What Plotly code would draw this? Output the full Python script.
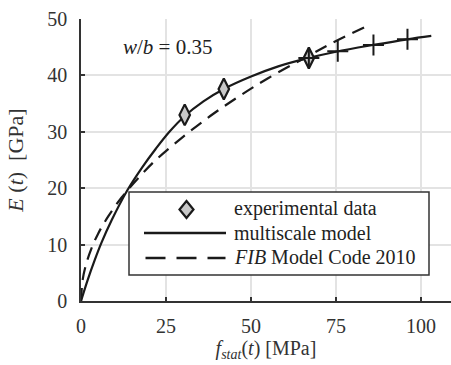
import plotly.graph_objects as go

# experimental data
exp_f = [30.5, 42.0, 67.0]
exp_E = [33.0, 37.6, 43.1]

# multiscale model curve
ms_f = [0, 2, 4, 6, 9, 13.5, 18, 22, 26, 30.5, 36, 42, 50, 58, 67, 75, 86, 96, 103]
ms_E = [0, 3.8, 7.2, 10.3, 14.3, 19.5, 23.7, 27.0, 30.0, 32.8, 35.4, 37.6, 39.8, 41.6, 43.1, 44.2, 45.4, 46.4, 47.0]

# multiscale model points (plus markers)
msp_f = [67, 75.5, 86, 96]
msp_E = [43.1, 44.3, 45.4, 46.4]

# FIB Model Code 2010 curve
fib_f = [0, 0.5, 1.5, 3, 5, 8, 12, 17, 22, 30, 38, 46, 55, 67, 75, 85]
fib_E = [0, 3.8, 6.5, 9.2, 11.9, 15.0, 18.4, 21.9, 25.0, 29.1, 32.8, 36.1, 39.5, 43.5, 46.1, 49.0]

legend_labels = ["experimental data", "multiscale model", "<i>FIB</i> Model Code 2010"]

font = "Liberation Serif, Times New Roman, serif"
INK = "#1a1a1a"
W, H = 451, 365
ML, MR, MT, MB = 81, 0, 19, 64
PW, PH = W - ML - MR, H - MT - MB


def px(x):
    return (x - ML) / PW


def py(y):
    return (H - MB - y) / PH


fig = go.Figure()
fig.add_trace(go.Scatter(x=ms_f, y=ms_E, mode="lines", name="multiscale model", showlegend=False,
                         line=dict(color=INK, width=2.2, shape="spline")))
fig.add_trace(go.Scatter(x=fib_f, y=fib_E, mode="lines", name="FIB Model Code 2010", showlegend=False,
                         line=dict(color=INK, width=2.2, dash="13px,8px", shape="spline")))
fig.add_trace(go.Scatter(x=exp_f, y=exp_E, mode="markers", name="experimental data", showlegend=False,
                         marker=dict(symbol="diamond-tall", size=15, color="#c8c8c8",
                                     line=dict(color=INK, width=2.2))))
fig.add_trace(go.Scatter(x=msp_f, y=msp_E, mode="markers", showlegend=False,
                         marker=dict(symbol="cross-thin", size=15,
                                     line=dict(color=INK, width=2))))

# hand-drawn legend (box, samples, labels)
shapes = [
    dict(type="rect", xref="paper", yref="paper", x0=px(129), x1=px(429), y0=py(275), y1=py(192),
         fillcolor="white", line=dict(color="#333333", width=1.5), layer="above"),
    dict(type="path", xref="paper", yref="paper", layer="above",
         path="M {},{} L {},{} L {},{} L {},{} Z".format(px(186.5), py(201), px(193.5), py(209.5),
                                                         px(186.5), py(218), px(179.5), py(209.5)),
         fillcolor="#c8c8c8", line=dict(color=INK, width=2.2)),
    dict(type="line", xref="paper", yref="paper", layer="above",
         x0=px(144), x1=px(226), y0=py(233), y1=py(233), line=dict(color=INK, width=2.4)),
    dict(type="line", xref="paper", yref="paper", layer="above",
         x0=px(145.5), x1=px(225.5), y0=py(258), y1=py(258),
         line=dict(color=INK, width=2.4, dash="20px,11px")),
]
annotations = [
    dict(x=25.5, y=45.1, xref="x", yref="y", showarrow=False,
         text="<i>w</i>/<i>b</i> = 0.35", font=dict(family=font, size=21, color="#222222")),
]
for lbl, yy in zip(legend_labels, [208, 233, 257]):
    annotations.append(dict(x=px(232), y=py(yy), xref="paper", yref="paper", showarrow=False,
                            xanchor="left", yanchor="middle", text=lbl,
                            font=dict(family=font, size=20, color="#222222")))

fig.update_layout(
    width=W, height=H,
    margin=dict(l=ML, r=MR, t=MT, b=MB),
    paper_bgcolor="white", plot_bgcolor="white",
    font=dict(family=font, color="#333333", size=20),
    showlegend=False,
    shapes=shapes,
    annotations=annotations,
)
fig.update_xaxes(range=[0, 108.8], tickvals=[0, 25, 50, 75, 100],
                 showgrid=True, gridcolor="#e3e3e3", gridwidth=1.5,
                 showline=True, linecolor="#333333", linewidth=1.5,
                 ticks="inside", ticklen=4, tickcolor="#333333", tickwidth=1.5,
                 zeroline=False, ticklabelstandoff=6,
                 title=dict(text="<i>f</i><sub><i>stat</i></sub>(<i>t</i>) [MPa]",
                            standoff=4, font=dict(size=20)))
fig.update_yaxes(range=[0, 50], tickvals=[0, 10, 20, 30, 40, 50],
                 showgrid=True, gridcolor="#e3e3e3", gridwidth=1.5,
                 showline=True, linecolor="#333333", linewidth=1.5,
                 ticks="inside", ticklen=4, tickcolor="#333333", tickwidth=1.5,
                 zeroline=False, ticklabelstandoff=8,
                 title=dict(text="<i>E</i> (<i>t</i>)  [GPa]", standoff=18, font=dict(size=22)))

fig.write_html("out.html")
